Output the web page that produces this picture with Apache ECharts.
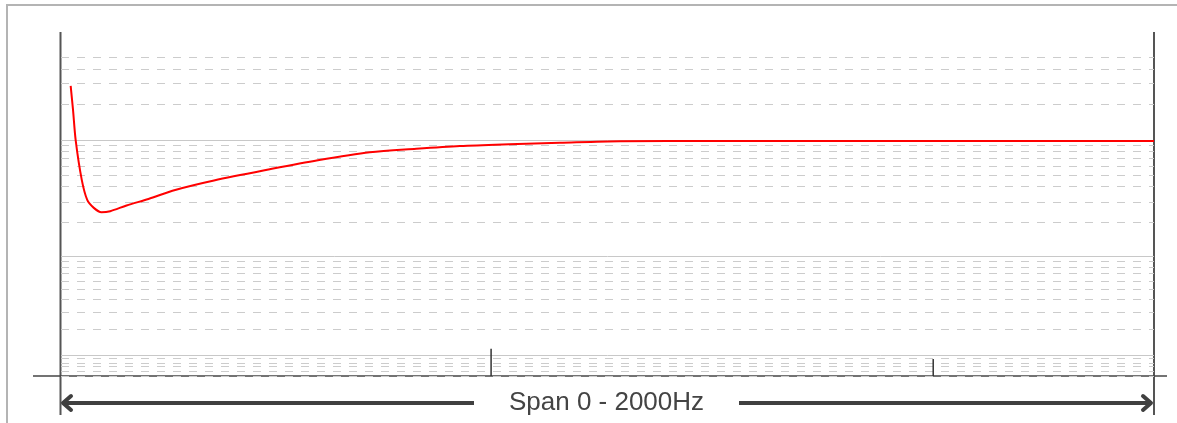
<!DOCTYPE html>
<html>
<head>
<meta charset="utf-8">
<script src="https://cdn.jsdelivr.net/npm/echarts@6/dist/echarts.min.js"></script>
<style>
html, body { margin: 0; padding: 0; background: #fff; }
#chart { width: 1177px; height: 423px; }
</style>
</head>
<body>
<div id="chart"></div>
<script>
// response curve, frequency in Hz and level
var freqHz = [17.7, 22, 27, 38, 48, 60, 74, 90, 120, 160, 209, 280, 382, 470, 565, 650, 730, 820, 913, 1023, 1200, 1500, 2000];
var level = [2868, 1797, 980, 457, 308, 263, 241, 246, 276, 314, 375, 452, 563, 672, 786, 842, 889, 921, 948, 977, 982, 982, 982];

// small peaks sitting on the axis
var peakHz = [787, 1596];
var peakLevel = [12, 8.9];

// grid levels (scale is log-like)
var majorLevels = [10, 100, 1000];
var minorLevels = [5, 6, 7, 8, 9, 20, 30, 40, 50, 60, 70, 80, 90, 200, 300, 400, 500, 600, 700, 800, 900, 2000, 3000, 4000, 5000];

var levelMin = 4.9, levelMax = 8200;
var spanText = 'Span 0 - 2000Hz';

function lv(v) { return Math.log10(v + 5.3); }

var chartDom = document.getElementById('chart');
var myChart = echarts.init(chartDom);

var gridLines = [];
majorLevels.forEach(function (v) {
    gridLines.push({ yAxis: lv(v), lineStyle: { color: '#c8c8c8', width: 1, type: 'solid' } });
});
minorLevels.forEach(function (v) {
    gridLines.push({ yAxis: lv(v), lineStyle: { color: '#cccccc', width: 1, type: [8, 8] } });
});

var series = [{
    name: 'grid',
    type: 'line',
    data: [],
    z: 1,
    silent: true,
    markLine: {
        z: 1,
        silent: true,
        symbol: ['none', 'none'],
        label: { show: false },
        animation: false,
        emphasis: { disabled: true },
        data: gridLines
    }
}, {
    name: 'response',
    type: 'line',
    z: 10,
    data: freqHz.map(function (h, i) { return [h, lv(level[i])]; }),
    showSymbol: false,
    smooth: 0.3,
    lineStyle: { color: '#ff0000', width: 2 },
    itemStyle: { color: '#ff0000' }
}];

peakHz.forEach(function (h, i) {
    series.push({
        name: 'peak' + i,
        type: 'line',
        z: 10,
        data: [[h, lv(levelMin)], [h, lv(peakLevel[i])]],
        showSymbol: false,
        lineStyle: { color: '#333', width: 1.5 }
    });
});

var L = 61, R = 1154, T = 32, B = 376;

var option = {
    animation: false,
    grid: { left: L, right: 1177 - R, top: T, bottom: 423 - B },
    xAxis: {
        type: 'value', min: 0, max: 2000,
        axisLine: { show: false }, axisTick: { show: false },
        axisLabel: { show: false }, splitLine: { show: false }
    },
    yAxis: {
        type: 'value', min: lv(levelMin), max: lv(levelMax),
        axisLine: { show: false }, axisTick: { show: false },
        axisLabel: { show: false }, splitLine: { show: false }
    },
    series: series,
    graphic: [
        { type: 'rect', silent: true, shape: { x: 7, y: 5, width: 1300, height: 600 },
          style: { fill: 'none', stroke: '#b4b4b4', lineWidth: 2 } },
        { type: 'line', silent: true, shape: { x1: L - 0.5, y1: T, x2: L - 0.5, y2: 415 },
          style: { stroke: '#555', lineWidth: 2 } },
        { type: 'line', silent: true, shape: { x1: R, y1: T, x2: R, y2: 415 },
          style: { stroke: '#555', lineWidth: 2 } },
        { type: 'line', silent: true, shape: { x1: 33, y1: B, x2: 1167, y2: B },
          style: { stroke: '#444', lineWidth: 1.5 } },
        { type: 'line', silent: true, shape: { x1: 63, y1: 403, x2: 474, y2: 403 },
          style: { stroke: '#404040', lineWidth: 4 } },
        { type: 'line', silent: true, shape: { x1: 739, y1: 403, x2: 1150, y2: 403 },
          style: { stroke: '#404040', lineWidth: 4 } },
        { type: 'polyline', silent: true, shape: { points: [[71, 396], [63, 403], [71, 410]] },
          style: { fill: 'none', stroke: '#404040', lineWidth: 4, lineCap: 'round', lineJoin: 'round' } },
        { type: 'polyline', silent: true, shape: { points: [[1143, 396], [1151, 403], [1143, 410]] },
          style: { fill: 'none', stroke: '#404040', lineWidth: 4, lineCap: 'round', lineJoin: 'round' } },
        { type: 'text', silent: true, x: 606.5, y: 403,
          style: { text: spanText, fill: '#444', font: '26px "Liberation Sans", Arial, sans-serif',
                   align: 'center', verticalAlign: 'middle' } }
    ]
};
myChart.setOption(option);
</script>
</body>
</html>
